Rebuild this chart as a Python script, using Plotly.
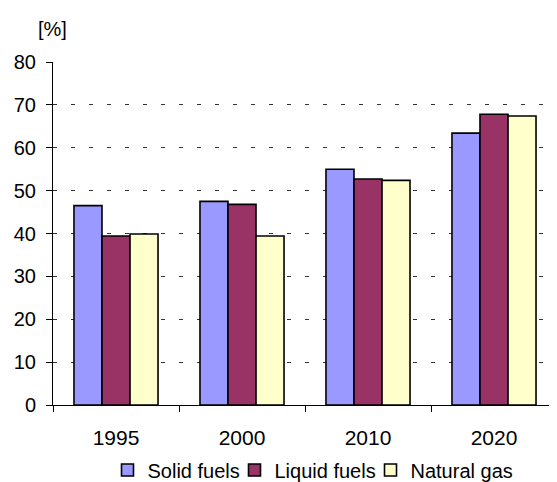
import plotly.graph_objects as go

years = ["1995", "2000", "2010", "2020"]
solid_fuels = [46.5, 47.5, 55.0, 63.4]
liquid_fuels = [39.4, 46.8, 52.7, 67.8]
natural_gas = [39.9, 39.4, 52.4, 67.4]
y_ticks = [0, 10, 20, 30, 40, 50, 60, 70, 80]

font_family = "Liberation Sans, Arial, sans-serif"

# page shows the figure offset by the 8px body margin, so size/offsets compensate
OFF = 8
W, H = 557 - OFF, 482 - OFF
L, R, T, B = 53 - OFF, 0, 62 - OFF, 77
PW = W - L - R
PH = H - T - B

series = [
    ("Solid fuels", solid_fuels, "#9999FF", "legend", 99.5),
    ("Liquid fuels", liquid_fuels, "#993366", "legend2", 226.5),
    ("Natural gas", natural_gas, "#FFFFCC", "legend3", 362.5),
]

fig = go.Figure()
legends = {}
for name, vals, color, lg, lx in series:
    fig.add_trace(go.Bar(x=years, y=vals, name=name, legend=lg,
                         marker=dict(color=color, line=dict(color="black", width=1.6))))
    legends[lg] = dict(orientation="h", x=(lx - L) / PW, xanchor="left", yref="container",
                       y=(482 - 470) / H, yanchor="middle", font=dict(size=20),
                       itemwidth=30, bgcolor="rgba(0,0,0,0)")

# dark dashed gridlines (10..70) via overlay axis
fig.add_trace(go.Scatter(x=years, y=[None]*4, yaxis="y2", showlegend=False, hoverinfo="skip"))

fig.update_layout(
    width=W, height=H,
    margin=dict(l=L, r=R, t=T, b=B, autoexpand=False),
    paper_bgcolor="white", plot_bgcolor="white",
    barmode="group", bargap=0.333, bargroupgap=0,
    font=dict(family=font_family, size=20, color="black"),
    showlegend=True,
    **legends,
    xaxis=dict(showline=True, linecolor="black", linewidth=1, ticks="outside",
               tickson="boundaries", ticklen=6, tickcolor="black",
               tickfont=dict(size=21), showgrid=False, automargin=False,
               ticklabelstandoff=14),
    yaxis=dict(range=[0, 80], tickvals=y_ticks, showline=True, linecolor="black",
               linewidth=1, ticks="outside", ticklen=6, tickcolor="black",
               showgrid=True, gridcolor="#d0d0d0", griddash="4px,14px", gridwidth=1,
               zeroline=False, tickfont=dict(size=20), ticklabelstandoff=6,
               automargin=False),
    yaxis2=dict(range=[0, 80], overlaying="y", tickvals=y_ticks[1:-1],
                showticklabels=False, showgrid=True, gridcolor="#333333",
                griddash="4px,14px", gridwidth=1, zeroline=False, showline=False,
                ticks="", automargin=False),
    annotations=[dict(text="[%]", x=(52 - OFF - L) / PW, y=(H - B - (28.5 - OFF)) / PH,
                      xref="paper", yref="paper", showarrow=False,
                      xanchor="center", yanchor="middle", font=dict(size=20))],
)

fig.write_html("out.html")
